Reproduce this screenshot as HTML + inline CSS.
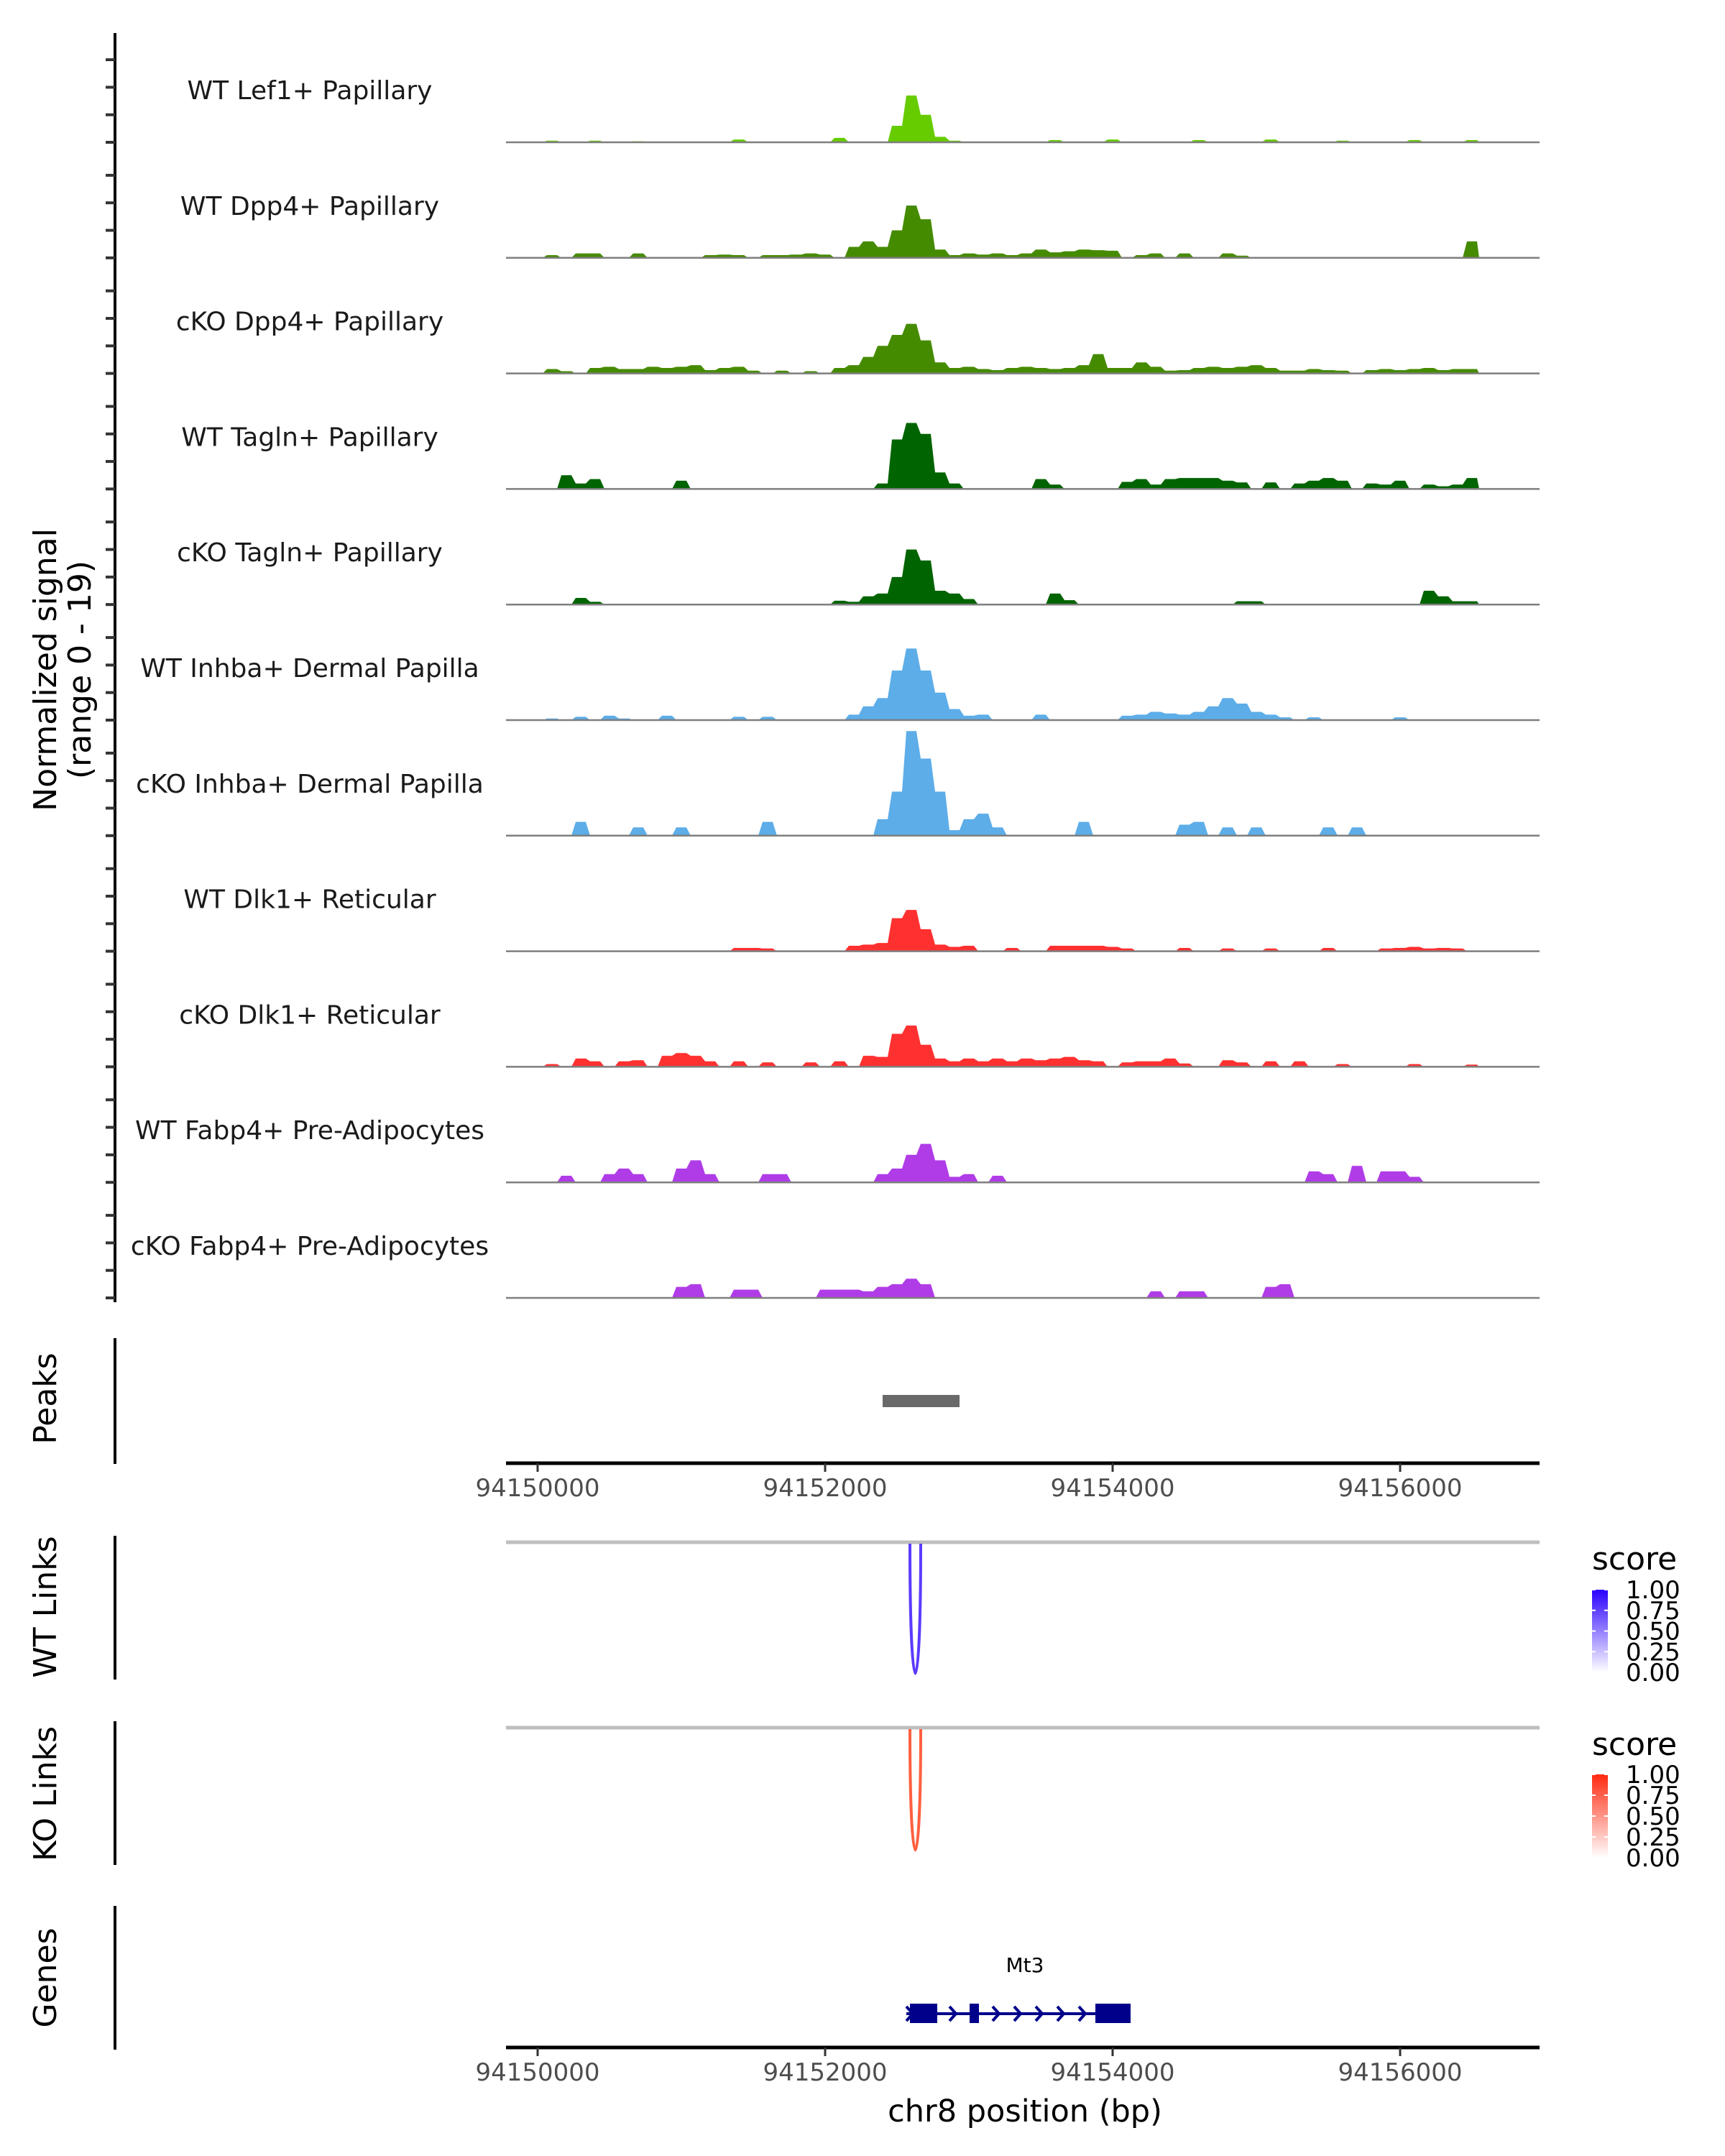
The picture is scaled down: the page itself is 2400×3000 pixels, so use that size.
<!DOCTYPE html>
<html><head><meta charset="utf-8"><style>
html,body{margin:0;padding:0;background:#fff;width:2400px;height:3000px;overflow:hidden}
svg text{font-family:"DejaVu Sans","Liberation Sans",sans-serif}
</style></head><body>
<svg id="chart" width="2400" height="3000" viewBox="0 0 2400 3000" xmlns="http://www.w3.org/2000/svg">
<defs>
<linearGradient id="gBlue" x1="0" y1="1" x2="0" y2="0"><stop offset="0" stop-color="#ffffff"/><stop offset="1" stop-color="#2a00ff"/></linearGradient>
<linearGradient id="gRed" x1="0" y1="1" x2="0" y2="0"><stop offset="0" stop-color="#ffffff"/><stop offset="1" stop-color="#ff2a10"/></linearGradient>
<clipPath id="plotClip"><rect x="704" y="0" width="1438" height="3000"/></clipPath>
</defs>
<g id="tracks" clip-path="url(#plotClip)"></g>
<g id="labels"></g>
<g id="yaxis"></g>
<text transform="translate(78,932) rotate(-90)" text-anchor="middle" font-size="44" fill="#000">Normalized signal</text>
<text transform="translate(126,932) rotate(-90)" text-anchor="middle" font-size="44" fill="#000">(range 0 - 19)</text>

<line x1="160" y1="1862" x2="160" y2="2037" stroke="#000" stroke-width="4"/>
<text transform="translate(78,1946) rotate(-90)" text-anchor="middle" font-size="44">Peaks</text>
<g id="peaks"></g>
<g id="xaxis1"></g>

<line x1="160" y1="2137" x2="160" y2="2337" stroke="#000" stroke-width="4"/>
<text transform="translate(78,2236) rotate(-90)" text-anchor="middle" font-size="44">WT Links</text>
<line x1="704" y1="2146" x2="2142" y2="2146" stroke="#bebebe" stroke-width="5"/>
<g id="wtlinks"></g>
<g>
<text x="2215" y="2184" font-size="44">score</text>
<rect x="2215" y="2212" width="22" height="115" fill="url(#gBlue)"/>
<g id="legBlue"></g>
</g>

<line x1="160" y1="2395" x2="160" y2="2595" stroke="#000" stroke-width="4"/>
<text transform="translate(78,2496) rotate(-90)" text-anchor="middle" font-size="44">KO Links</text>
<line x1="704" y1="2404" x2="2142" y2="2404" stroke="#bebebe" stroke-width="5"/>
<g id="kolinks"></g>
<g>
<text x="2215" y="2442" font-size="44">score</text>
<rect x="2215" y="2469" width="22" height="116" fill="url(#gRed)"/>
<g id="legRed"></g>
</g>

<line x1="160" y1="2652" x2="160" y2="2852" stroke="#000" stroke-width="4"/>
<text transform="translate(78,2752) rotate(-90)" text-anchor="middle" font-size="44">Genes</text>
<g id="genes"></g>
<g id="xaxis2"></g>
<text x="1426" y="2952" text-anchor="middle" font-size="43">chr8 position (bp)</text>
</svg>
<script>
const trackNames = ["WT Lef1+ Papillary","WT Dpp4+ Papillary","cKO Dpp4+ Papillary","WT Tagln+ Papillary","cKO Tagln+ Papillary","WT Inhba+ Dermal Papilla","cKO Inhba+ Dermal Papilla","WT Dlk1+ Reticular","cKO Dlk1+ Reticular","WT Fabp4+ Pre-Adipocytes","cKO Fabp4+ Pre-Adipocytes"];
const trackColors = ["#66cc00","#458b00","#458b00","#006400","#006400","#5dade8","#5dade8","#ff3030","#ff3030","#b03ce8","#b03ce8"];
const binStart = 94149750;
const binSize = 100;
const sigLef1 = [0,0,0,.3,0,0,.3,0,0,.2, 0,0,0,0,0,0,.5,0,0,0, 0,0,0,.8,0,0,0,3,8.5,5, 1,.3,0,0,0,0,0,0,.4,0, 0,0,.5,0,0,0,0,0,.4,0, 0,0,0,.5,0,0,0,0,.3,0, 0,0,0,.4,0,0,0,.4];
const sigWtDpp4 = [0,0,0,.5,0,.8,.8,0,0,.8, 0,0,0,0,.5,.6,.5,0,.5,.5, .6,.8,.6,0,2,3,2,5,9.5,7, 1.5,.5,.8,.6,.8,.5,.8,1.5,1,1.2, 1.5,1.4,1.3,0,.5,.8,0,.8,0,0, .8,.4,0,0,0,0,0,0,0,0, 0,0,0,0,0,0,0,3];
const sigKoDpp4 = [0,0,0,.8,.4,0,1,1.2,.8,.8, 1.2,1,1.2,1.5,.6,1,1.2,.5,0,.5, 0,.4,0,1,1.5,3,5,7,9,6, 2,1,1.2,.8,.6,1,1.2,1,.8,1, 1.5,3.5,1,1,2,1.2,.5,.6,1,1.2, 1,1.2,1.5,1,.5,.5,.8,.6,.5,0, .6,.8,.6,.8,1,.6,.8,.8];
const sigWtTagln = [0,0,0,0,2.5,1,1.8,0,0,0, 0,0,1.5,0,0,0,0,0,0,0, 0,0,0,0,0,0,1,9,12,10, 3,1,0,0,0,0,0,1.8,.8,0, 0,0,0,1.3,1.8,.8,1.8,2,2,2, 1.5,1.2,0,1.2,0,1,1.5,2,1.5,0, 1,.8,1.5,0,.8,.5,.8,2];
const sigKoTagln = [0,0,0,0,0,1.2,.5,0,0,0, 0,0,0,0,0,0,0,0,0,0, 0,0,0,.7,.5,1.5,2,5,10,8, 2.5,2,1,0,0,0,0,0,2,.8, 0,0,0,0,0,0,0,0,0,0, 0,.6,.6,0,0,0,0,0,0,0, 0,0,0,0,2.5,1.5,.6,.6];
const sigWtInhba = [0,0,0,.3,0,.6,0,.8,.3,0, 0,.8,0,0,0,0,.6,0,.6,0, 0,0,0,0,1,2.5,4,9,13,9, 5,2,.8,1,0,0,0,1,0,0, 0,0,0,.8,1,1.5,1.2,1,1.5,2.5, 4,3,1.5,1,.5,0,.5,0,0,0, 0,0,.5,0,0,0,0,0];
const sigKoInhba = [0,0,0,0,0,2.5,0,0,0,1.5, 0,0,1.5,0,0,0,0,0,2.5,0, 0,0,0,0,0,0,3,8,19,14, 8,1,3,4,1.5,0,0,0,0,0, 2.5,0,0,0,0,0,0,2,2.5,0, 1.5,0,1.5,0,0,0,0,1.5,0,1.5, 0,0,0,0,0,0,0,0];
const sigWtDlk1 = [0,0,0,0,0,0,0,0,0,0, 0,0,0,0,0,0,.6,.6,.5,0, 0,0,0,0,1,1.2,1.5,6,7.5,4, 1.2,.8,1,0,0,.6,0,0,1,1, 1,1,.8,.5,0,0,0,.6,0,0, .5,0,0,.5,0,0,0,.6,0,0, 0,.5,.6,.8,.5,.6,.5,0];
const sigKoDlk1 = [0,0,0,.5,0,1.5,1,0,1,1.2, 0,2,2.5,2,1,0,1,0,.8,0, 0,.8,0,1,0,2,1.8,6,7.5,4, 1.5,1,1.5,1,1.5,1,1.5,1.2,1.5,1.8, 1.2,1,0,.8,1,1,1.5,.6,0,0, 1.2,.8,0,1,0,1,0,0,.5,0, 0,0,0,.5,0,0,0,.4];
const sigWtFabp4 = [0,0,0,0,1.2,0,0,1.5,2.5,1.5, 0,0,2.5,4,1.5,0,0,0,1.5,1.5, 0,0,0,0,0,0,1.5,2.5,5,7, 4,1,1.5,0,1.2,0,0,0,0,0, 0,0,0,0,0,0,0,0,0,0, 0,0,0,0,0,0,2,1.5,0,3, 0,2,2,1,0,0,0,0];
const sigKoFabp4 = [0,0,0,0,0,0,0,0,0,0, 0,0,2,2.5,0,0,1.5,1.5,0,0, 0,0,1.5,1.5,1.5,1.2,2,2.5,3.5,2.5, 0,0,0,0,0,0,0,0,0,0, 0,0,0,0,0,1.2,0,1.2,1.2,0, 0,0,0,2,2.5,0,0,0,0,0, 0,0,0,0,0,0,0,0];
const signals = [sigLef1,sigWtDpp4,sigKoDpp4,sigWtTagln,sigKoTagln,sigWtInhba,sigKoInhba,sigWtDlk1,sigKoDlk1,sigWtFabp4,sigKoFabp4];
const yTicks = [0,5,10,15];
const xTickValues = [94150000,94152000,94154000,94156000];
const peakStarts = [94152400];
const peakEnds = [94152935];
const wtLinkStart = [94152590];
const wtLinkEnd = [94152665];
const wtLinkScore = [0.8];
const koLinkStart = [94152590];
const koLinkEnd = [94152665];
const koLinkScore = [0.75];
const exonStarts = [94152590,94153005,94153880];
const exonEnds = [94152780,94153070,94154125];
const geneStart = 94152565;
const geneEnd = 94154125;
const legendTicks = ["1.00","0.75","0.50","0.25","0.00"];

const NS = "http://www.w3.org/2000/svg";
function mk(tag, attrs, parent){const e=document.createElementNS(NS,tag);for(const k in attrs)e.setAttribute(k,attrs[k]);parent.appendChild(e);return e;}
const xScale = bp => 748 + (bp - 94150000) * 0.2;
const baseY = k => 198 + 160.8 * k;
const unit = 7.66;

const gT = document.getElementById('tracks'), gL = document.getElementById('labels'), gY = document.getElementById('yaxis');
mk('line',{x1:160,y1:46,x2:160,y2:1812,stroke:'#000','stroke-width':4},gY);
signals.forEach((arr,k)=>{
  const by = baseY(k);
  let d = `M${xScale(binStart)},${by}`;
  arr.forEach((v,i)=>{
    const x0 = xScale(binStart + i*binSize), x1 = xScale(binStart + (i+1)*binSize);
    const y = by - v*unit;
    d += ` L${x0+3},${y} L${x1-3},${y}`;
  });
  d += ` L${xScale(binStart+arr.length*binSize)},${by} Z`;
  const p = mk('path',{d:d,fill:trackColors[k]},gT);
  
  
  const bl = mk('line',{x1:704,y1:by,x2:2142,y2:by,stroke:'#7f7f7f','stroke-width':2.5},gT);
  
  
  const t = mk('text',{x:431,y:by-60,'text-anchor':'middle','font-size':36,fill:'#1a1a1a'},gL);
  t.textContent = trackNames[k];
  
  
  yTicks.forEach(v=>{
    const tk = mk('line',{x1:147,y1:by-v*unit,x2:160,y2:by-v*unit,stroke:'#333','stroke-width':4},gY);
    
    
  });
});

const gP = document.getElementById('peaks');
peakStarts.forEach((s,i)=>{
  const r = mk('rect',{x:xScale(s),y:1941,width:xScale(peakEnds[i])-xScale(s),height:17,fill:'#696969'},gP);
  
  
});

function xAxis(g, y){
  mk('line',{x1:704,y1:y,x2:2142,y2:y,stroke:'#000','stroke-width':5},g);
  xTickValues.forEach(v=>{
    const x = xScale(v);
    const tl = mk('line',{x1:x,y1:y,x2:x,y2:y+12,stroke:'#333','stroke-width':3},g);
    
    
    const t = mk('text',{x:x,y:y+46,'text-anchor':'middle','font-size':34,fill:'#4d4d4d'},g);
    t.textContent = v;
    
    
  });
}
xAxis(document.getElementById('xaxis1'), 2036);
xAxis(document.getElementById('xaxis2'), 2849);

function links(g, starts, ends, scores, top, bottom, color){
  starts.forEach((s,i)=>{
    const x0 = xScale(s), x1 = xScale(ends[i]);
    const depth = (bottom-top)*scores[i]/0.8;
    const d = `M${x0},${top} C${x0},${top+depth*1.33} ${x1},${top+depth*1.33} ${x1},${top}`;
    const p = mk('path',{d:d,fill:'none',stroke:color,'stroke-width':4},g);
    
    
  });
}
links(document.getElementById('wtlinks'), wtLinkStart, wtLinkEnd, wtLinkScore, 2148, 2329, '#5a3cff');
links(document.getElementById('kolinks'), koLinkStart, koLinkEnd, koLinkScore, 2406, 2586, '#ff6040');

function legend(g, y0, y1){
  legendTicks.forEach((s,i)=>{
    const y = y0 + (y1-y0)*i/(legendTicks.length-1);
    mk('line',{x1:2215,y1:y,x2:2220,y2:y,stroke:'#fff','stroke-width':2},g);
    mk('line',{x1:2232,y1:y,x2:2237,y2:y,stroke:'#fff','stroke-width':2},g);
    const t = mk('text',{x:2262,y:y+12,'font-size':34,fill:'#000'},g);
    t.textContent = s;
    
    
  });
}
legend(document.getElementById('legBlue'), 2212, 2327);
legend(document.getElementById('legRed'), 2469, 2585);

const gG = document.getElementById('genes');
const gy = 2802;
mk('line',{x1:xScale(geneStart),y1:gy,x2:xScale(geneEnd),y2:gy,stroke:'#00008b','stroke-width':4},gG);
for(let bp=geneStart; bp<geneEnd; bp+=150){
  const x = xScale(bp)+6;
  const a = mk('path',{d:`M${x-6},${gy-10} L${x+3},${gy} L${x-6},${gy+10}`,fill:'none',stroke:'#00008b','stroke-width':4},gG);
  
  
}
exonStarts.forEach((s,i)=>{
  const r = mk('rect',{x:xScale(s),y:2788,width:xScale(exonEnds[i])-xScale(s),height:27,fill:'#00008b'},gG);
  
  
});
const gl = mk('text',{x:1426,y:2744,'text-anchor':'middle','font-size':28,fill:'#000'},gG);
gl.textContent = 'Mt3';


</script>
</body></html>
